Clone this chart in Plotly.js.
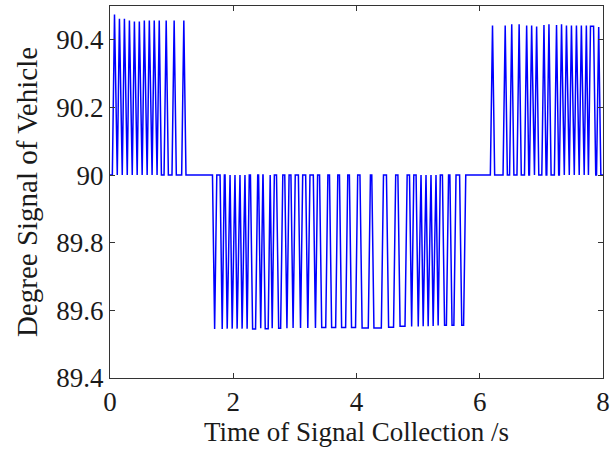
<!DOCTYPE html>
<html>
<head>
<meta charset="utf-8">
<script src="https://cdn.plot.ly/plotly-3.0.1.min.js"></script>
<style>html,body{margin:0;padding:0;background:#fff;}#chart{width:610px;height:449px;}</style>
</head>
<body>
<div id="chart"></div>
<script>
// Baseline level of the signal (deg)
const baseline = 90;
// Spike times (s), spike extreme values (deg) and hold durations at the extreme (s)
const spikeTime = [
  0.073,0.153,0.234,0.315,0.396,0.476,0.557,0.638,0.718,0.799,0.912,1.041,1.198,
  1.698,1.821,1.902,1.983,2.063,2.144,2.225,2.338,2.446,2.543,2.632,2.753,2.871,2.971,3.092,3.210,3.334,
  3.468,3.629,3.791,3.952,4.141,4.343,4.561,4.747,4.895,5.002,5.082,5.163,5.244,5.325,5.444,5.565,5.723,
  6.207,6.413,6.519,6.639,6.761,6.842,6.923,7.042,7.123,7.246,7.327,7.407,7.488,7.569,7.649,7.730,7.822,7.930
];
const spikeValue = [
  90.475,90.462,90.462,90.457,90.454,90.454,90.457,90.457,90.457,90.457,90.457,90.457,90.457,
  89.545,89.545,89.546,89.546,89.546,89.546,89.546,89.545,89.547,89.546,89.547,89.547,89.547,89.548,89.548,89.548,89.548,
  89.549,89.549,89.549,89.549,89.548,89.548,89.550,89.553,89.552,89.552,89.553,89.553,89.554,89.555,89.556,89.556,89.556,
  90.442,90.442,90.446,90.446,90.442,90.442,90.439,90.444,90.446,90.444,90.446,90.442,90.442,90.442,90.442,90.442,90.440,90.438
];
const spikeHold = [
  0,0,0,0,0,0,0,0,0,0,0,0,0,
  0,0,0,0,0,0,0,0.048,0,0.048,0,0.032,0,0,0,0,0,
  0.065,0.065,0.065,0.065,0.10,0.12,0.08,0.08,0,0,0,0,0,0,0.03,0.03,0.03,
  0,0,0,0,0,0,0,0,0,0,0,0,0,0,0,0,0.05,0
];
const tStart = 0, tEnd = 8;
const xTicks = [0, 2, 4, 6, 8];
const xTickText = ['0', '2', '4', '6', '8'];
const yTicks = [89.4, 89.6, 89.8, 90, 90.2, 90.4];
const yTickText = ['89.4', '89.6', '89.8', '90', '90.2', '90.4'];
const ramp = 0.035;

// Build the signal polyline from the spike table
const xs = [], ys = [];
xs.push(tStart); ys.push(baseline);
let prevEnd = null;
for (let i = 0; i < spikeTime.length; i++) {
  const s = spikeTime[i] - spikeHold[i] / 2;
  const e = spikeTime[i] + spikeHold[i] / 2;
  const left = prevEnd === null ? tStart : prevEnd + ramp;
  const right = s - ramp;
  if (right > left) {
    if (prevEnd !== null) { xs.push(left); ys.push(baseline); }
    xs.push(right); ys.push(baseline);
  } else if (prevEnd !== null) {
    xs.push((prevEnd + s) / 2); ys.push(baseline);
  }
  xs.push(s); ys.push(spikeValue[i]);
  if (spikeHold[i] > 0) { xs.push(e); ys.push(spikeValue[i]); }
  prevEnd = e;
}
xs.push(prevEnd + ramp); ys.push(baseline);
xs.push(tEnd); ys.push(baseline);

const font = {family: '"Liberation Serif", "Times New Roman", serif', color: '#1a1a1a'};
const axisCommon = {
  showgrid: false, zeroline: false, ticks: 'inside', ticklen: 5, tickwidth: 1,
  tickcolor: '#333', linecolor: '#333', linewidth: 1, mirror: 'allticks', showline: true,
  ticklabeloverflow: 'allow',
  tickfont: Object.assign({size: 27}, font)
};
const layout = {
  width: 610, height: 449,
  margin: {l: 109.5, r: 7, t: 5.5, b: 70.7},
  paper_bgcolor: '#fff', plot_bgcolor: '#fff',
  showlegend: false,
  xaxis: Object.assign({}, axisCommon, {
    range: [tStart, tEnd], tickvals: xTicks, ticktext: xTickText,
    title: {text: 'Time of Signal Collection /s', font: Object.assign({size: 27}, font), standoff: 3}
  }),
  yaxis: Object.assign({}, axisCommon, {
    range: [89.4, 90.5], tickvals: yTicks, ticktext: yTickText,
    title: {text: 'Degree Signal of Vehicle', font: Object.assign({size: 29}, font), standoff: 10}
  })
};
Plotly.newPlot('chart', [{
  x: xs, y: ys, type: 'scatter', mode: 'lines',
  line: {color: '#0000ff', width: 1.5}, hoverinfo: 'skip'
}], layout, {staticPlot: true, displayModeBar: false});
</script>
</body>
</html>
